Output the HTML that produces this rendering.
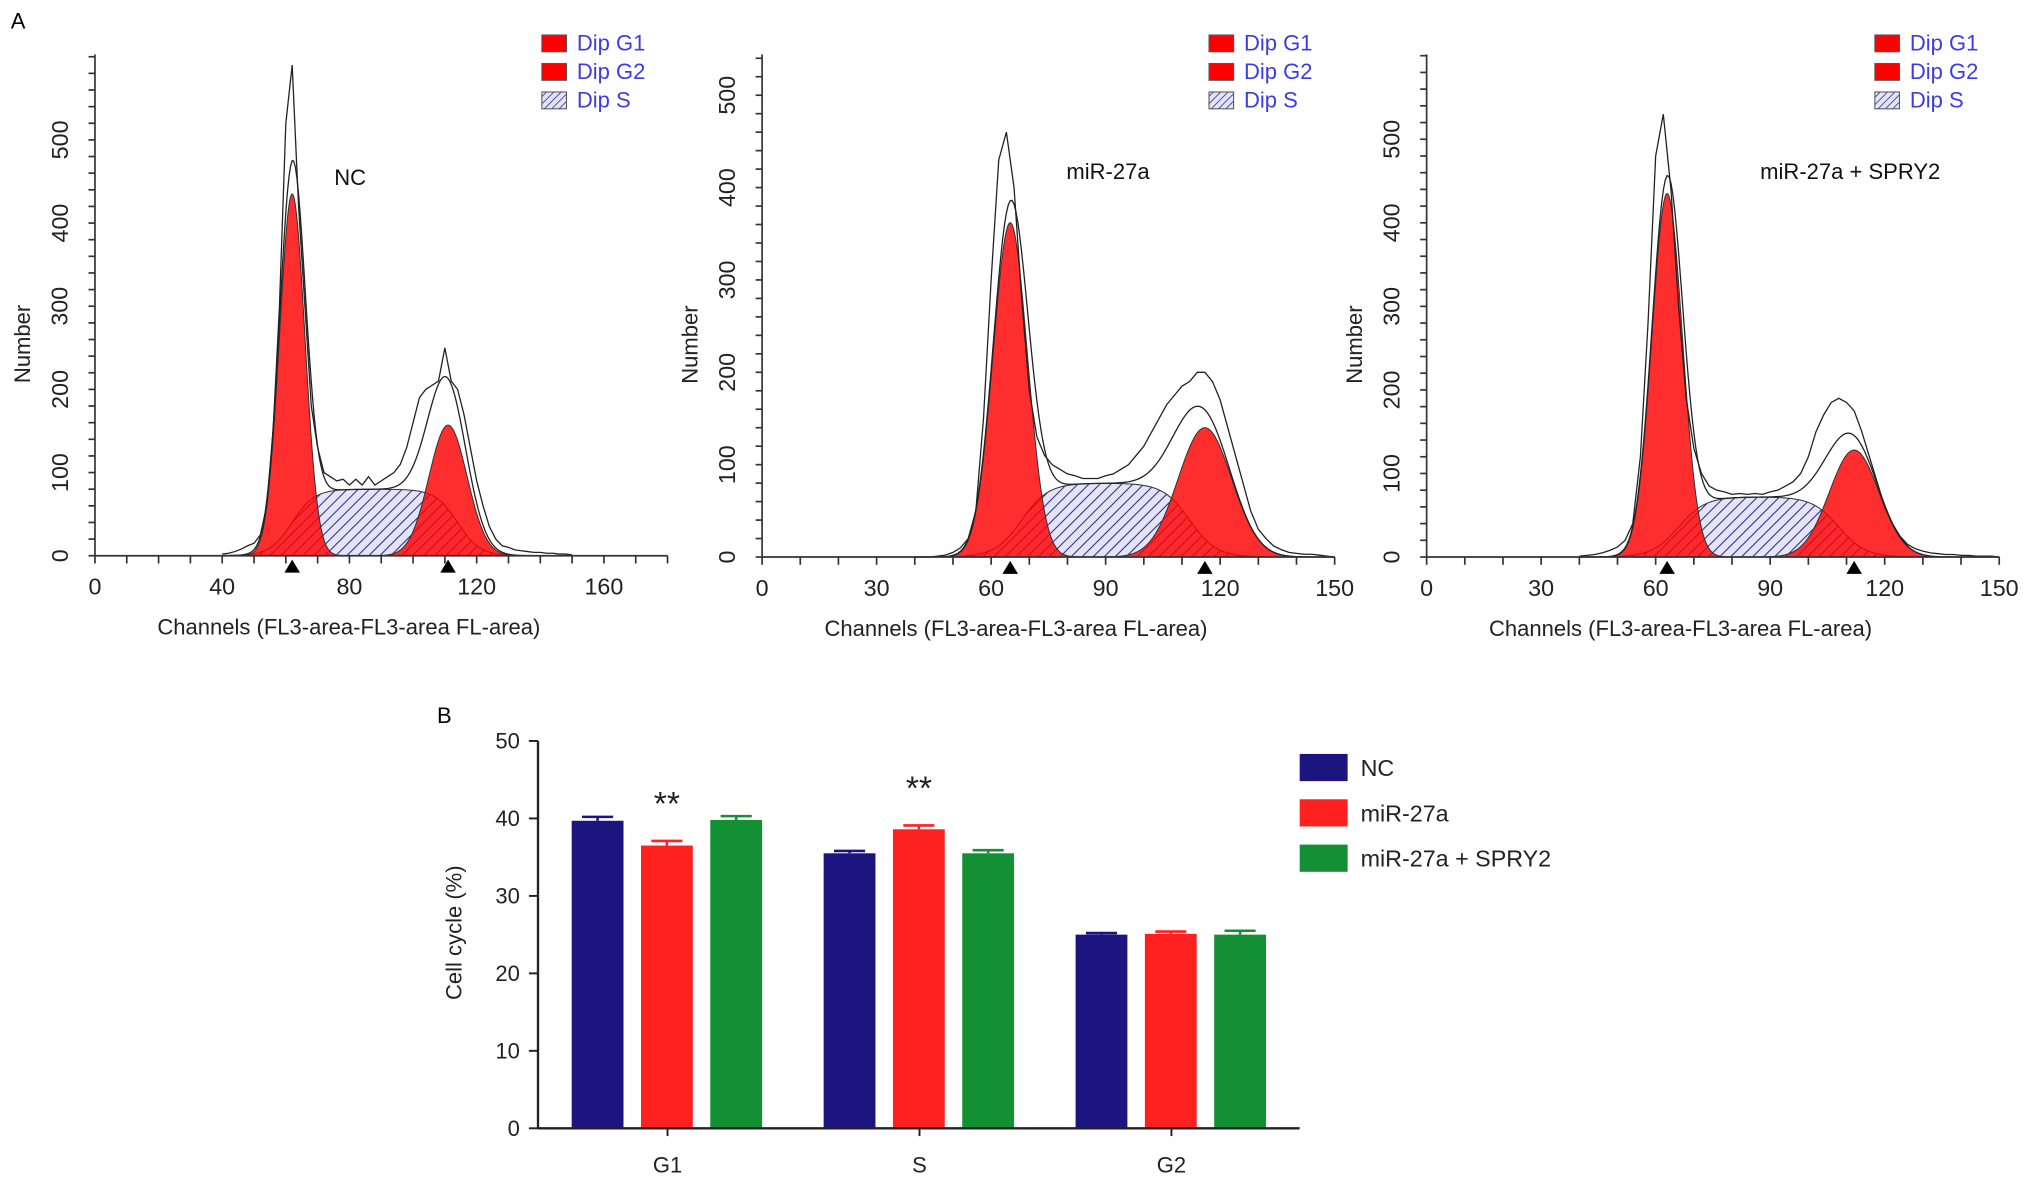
<!DOCTYPE html>
<html><head><meta charset="utf-8"><style>
html,body{margin:0;padding:0;background:#fff}
svg{display:block;font-family:"Liberation Sans",Arial,sans-serif}
</style></head><body>
<svg id="fig" width="2032" height="1184" viewBox="0 0 1568 914" xmlns="http://www.w3.org/2000/svg">
<defs>
<pattern id="hatch" patternUnits="userSpaceOnUse" width="6" height="6" patternTransform="rotate(45)">
<rect width="6" height="6" fill="#e4e4f6"/><line x1="0" y1="0" x2="0" y2="6" stroke="#2a2a8a" stroke-width="1.6"/>
</pattern>
<pattern id="hatchSmall" patternUnits="userSpaceOnUse" width="4" height="4" patternTransform="rotate(45)">
<rect width="4" height="4" fill="#e4e4f6"/><line x1="0" y1="0" x2="0" y2="4" stroke="#2a2a8a" stroke-width="1.2"/>
</pattern>
</defs>
<text x="8" y="22" font-size="17">A</text>
<text x="337" y="558" font-size="17">B</text>
</svg>
<script>
// ---------- Histogram data ----------
const histTitles = ["NC", "miR-27a", "miR-27a + SPRY2"];
const histChannels = [40,42,44,46,48,50,52,54,56,58,60,62,64,66,68,70,72,74,76,78,80,82,84,86,88,90,92,94,96,98,100,102,104,106,108,110,112,114,116,118,120,122,124,126,128,130,132,134,136,138,140,142,144,146,148,150];
const rawNC = [2,3,5,8,12,15,25,60,150,300,520,590,420,300,180,130,100,95,90,92,85,92,85,95,85,90,95,100,110,130,160,190,200,205,210,250,210,200,170,130,90,60,35,20,12,10,7,6,5,4,4,3,3,2,2,1];
const rawMir = [0,0,0,1,2,5,10,20,50,150,300,430,460,400,280,180,130,110,100,95,90,88,85,85,85,88,90,95,100,110,120,135,150,165,175,185,190,200,200,190,170,140,110,80,50,30,20,12,8,5,4,3,3,2,1,0];
const rawCombo = [1,2,3,5,8,12,20,40,120,280,480,530,440,300,190,130,100,85,80,78,75,76,75,76,75,78,80,85,90,100,120,150,170,185,190,185,175,150,120,90,60,40,25,15,10,7,5,4,3,3,2,2,1,1,1,0];
const raws = [rawNC, rawMir, rawCombo];
const g1Params = [[62,435,4.0],[65,362,4.5],[63,435,4.0]];
const g2Params = [[111,157,6.0],[116,140,7.0],[112,128,6.5]];
const sParams = [[62,114,80],[68,112,80],[66,108,72]];
const xMax = [180,150,150];
const xTicks = [[0,40,80,120,160],[0,30,60,90,120,150],[0,30,60,90,120,150]];
const yTicks = [[0,100,200,300,400,500],[0,100,200,300,400,500],[0,100,200,300,400,500]];

const NS="http://www.w3.org/2000/svg";
const svg=document.getElementById('fig');
function mk(tag,attrs,parent){const e=document.createElementNS(NS,tag);for(const k in attrs)e.setAttribute(k,attrs[k]);(parent||svg).appendChild(e);return e;}

const layouts=[
 {x0:73,x1:515,y0:429,pxPerY:0.642,top:42,legX:418},
 {x0:588,x1:1030,y0:430,pxPerY:0.713,top:42,legX:933},
 {x0:1101,x1:1543,y0:430,pxPerY:0.645,top:42,legX:1447}
];
const titlePos=[[270,143],[855,138],[1428,138]];

function gauss(x,p){return p[1]*Math.exp(-0.5*Math.pow((x-p[0])/p[2],2));}
function sfun(x,p){const w=3.5;return p[2]/(1+Math.exp(-(x-p[0])/w))/(1+Math.exp((x-p[1])/w));}

for(let i=0;i<3;i++){
 const L=layouts[i];
 const g=mk('g',{});
 
 
 const sx=v=>L.x0+(v/xMax[i])*(L.x1-L.x0);
 const sy=v=>L.y0-v*L.pxPerY;
 const xs=[];for(let c=40;c<=150;c+=0.5)xs.push(c);
 let d='M'+sx(40)+','+sy(0);xs.forEach(c=>d+=' L'+sx(c).toFixed(2)+','+sy(sfun(c,sParams[i])).toFixed(2));d+=' L'+sx(150)+','+sy(0)+'Z';
 const sA=mk('path',{d:d,fill:'url(#hatch)',stroke:'#333','stroke-width':0.8},g);
 
 
 [g1Params[i],g2Params[i]].forEach((p,k)=>{
  let dd='M'+sx(p[0]-4*p[2])+','+sy(0);
  for(let c=p[0]-4*p[2];c<=p[0]+4*p[2];c+=0.25)dd+=' L'+sx(c).toFixed(2)+','+sy(gauss(c,p)).toFixed(2);
  dd+=' L'+sx(p[0]+4*p[2])+','+sy(0)+'Z';
  const a=mk('path',{d:dd,fill:'#f00','fill-opacity':0.82,stroke:'#333','stroke-width':0.8},g);
  
  
  const t=mk('path',{d:`M${sx(p[0])-6},${L.y0+13} L${sx(p[0])+6},${L.y0+13} L${sx(p[0])},${L.y0+3}Z`,fill:'#000'},g);
  
  
 });
 let de='';xs.forEach((c,j)=>{const v=gauss(c,g1Params[i])+gauss(c,g2Params[i])+sfun(c,sParams[i]);de+=(j?' L':'M')+sx(c).toFixed(2)+','+sy(v).toFixed(2);});
 const env=mk('path',{d:de,fill:'none',stroke:'#222','stroke-width':1},g);
 
 
 let dr='';histChannels.forEach((c,j)=>{dr+=(j?' L':'M')+sx(c).toFixed(2)+','+sy(raws[i][j]).toFixed(2);});
 const rl=mk('path',{d:dr,fill:'none',stroke:'#222','stroke-width':1},g);
 
 
 const ax=mk('g',{stroke:'#333','stroke-width':1.3},g);
 
 
 mk('line',{x1:L.x0,y1:L.top,x2:L.x0,y2:L.y0},ax);
 mk('line',{x1:L.x0,y1:L.y0,x2:L.x1,y2:L.y0},ax);
 for(let v=0;v<=xMax[i];v+=10){mk('line',{x1:sx(v),y1:L.y0,x2:sx(v),y2:L.y0+6},ax);}
 for(let v=0;sy(v)>=L.top;v+=20){mk('line',{x1:L.x0-5,y1:sy(v),x2:L.x0,y2:sy(v)},ax);}
 xTicks[i].forEach(v=>{const t=mk('text',{x:sx(v),y:L.y0+30,'font-size':18,'text-anchor':'middle',fill:'#222'},g);t.textContent=v;
  });
 yTicks[i].forEach(v=>{const y=sy(v);const tx=L.x0-21;const t=mk('text',{x:tx,y:y,'font-size':18,'text-anchor':'middle',fill:'#222',transform:`rotate(-90 ${tx} ${y})`},g);t.textContent=v;
  });
 const xt=mk('text',{x:(L.x0+L.x1)/2-25,y:L.y0+61,'font-size':17,'text-anchor':'middle',fill:'#222'},g);xt.textContent='Channels (FL3-area-FL3-area FL-area)';
 
 const yx=L.x0-50,yy=(L.y0+L.top)/2+30;
 const yt=mk('text',{x:yx,y:yy,'font-size':17,'text-anchor':'middle',fill:'#222',transform:`rotate(-90 ${yx} ${yy})`},g);yt.textContent='Number';
 
 const tt=mk('text',{x:titlePos[i][0],y:titlePos[i][1],'font-size':17,'text-anchor':'middle',fill:'#111'},g);tt.textContent=histTitles[i];
 
 ['Dip G1','Dip G2','Dip S'].forEach((lab,k)=>{
  const y=27+k*22;
  const r=mk('rect',{x:L.legX,y:y,width:19,height:13,fill:k<2?'#f00':'url(#hatchSmall)',stroke:'#555','stroke-width':0.8},g);
  
  const t=mk('text',{x:L.legX+27,y:y+12,'font-size':17,fill:'#3c3ce6'},g);t.textContent=lab;
  
 });
}

// ---------- Bar chart data ----------
const barCategories = ["G1","S","G2"];
const barSeries = ["NC","miR-27a","miR-27a + SPRY2"];
const ncValues = [39.7,35.5,25.0];
const mirValues = [36.5,38.6,25.1];
const comboValues = [39.8,35.5,25.0];
const ncErr = [0.5,0.3,0.2];
const mirErr = [0.6,0.5,0.3];
const comboErr = [0.5,0.4,0.5];
const barYTicks = [0,10,20,30,40,50];
const starFlags = [[false,true,false],[false,true,false],[false,false,false]];

const B={x0:415,x1:1003,y0:871,top:572,yMax:50};
const by=v=>B.y0-(v/B.yMax)*(B.y0-B.top);
const colors=['#1c1580','#ff2020','#139033'];
const groupCenters=i=>515+i*194.5;
const bg=mk('g',{});


const allVals=[ncValues,mirValues,comboValues],allErr=[ncErr,mirErr,comboErr];
barCategories.forEach((cat,ci)=>{
 const cx=groupCenters(ci);
 for(let s=0;s<3;s++){
  const x=cx-74+s*53.5,w=40,v=allVals[s][ci],e=allErr[s][ci];
  const r=mk('rect',{x:x,y:by(v),width:w,height:B.y0-by(v),fill:colors[s]},bg);
  
  
  const eb=mk('path',{d:`M${x+w/2},${by(v)} V${by(v+e)} M${x+8},${by(v+e)} H${x+w-8}`,stroke:colors[s],'stroke-width':2,fill:'none'},bg);
  
  if(starFlags[ci][s]){const t=mk('text',{x:x+w/2,y:by(v+e)-20,'font-size':26,'text-anchor':'middle',fill:'#222'},bg);t.textContent='**';
   }
 }
 const t=mk('text',{x:cx,y:B.y0+34,'font-size':17,'text-anchor':'middle',fill:'#222'},bg);t.textContent=cat;
 
 mk('line',{x1:cx,y1:B.y0,x2:cx,y2:B.y0+6,stroke:'#222','stroke-width':1.5},bg);
});
mk('line',{x1:B.x0,y1:B.top,x2:B.x0,y2:B.y0,stroke:'#222','stroke-width':1.8},bg);
mk('line',{x1:B.x0,y1:B.y0,x2:B.x1,y2:B.y0,stroke:'#222','stroke-width':1.8},bg);
barYTicks.forEach(v=>{mk('line',{x1:B.x0-7,y1:by(v),x2:B.x0,y2:by(v),stroke:'#222','stroke-width':1.5},bg);
 const t=mk('text',{x:B.x0-14,y:by(v)+6,'font-size':17,'text-anchor':'end',fill:'#222'},bg);t.textContent=v;
 });
const yl=mk('text',{x:356,y:720,'font-size':17,'text-anchor':'middle',fill:'#222',transform:'rotate(-90 356 720)'},bg);yl.textContent='Cell cycle (%)';

barSeries.forEach((lab,s)=>{
 const y=582+s*35;
 const r=mk('rect',{x:1003,y:y,width:37,height:21,fill:colors[s]},bg);
 
 const t=mk('text',{x:1050,y:y+17,'font-size':18,fill:'#222'},bg);t.textContent=lab;
 
});
</script>
</body></html>
